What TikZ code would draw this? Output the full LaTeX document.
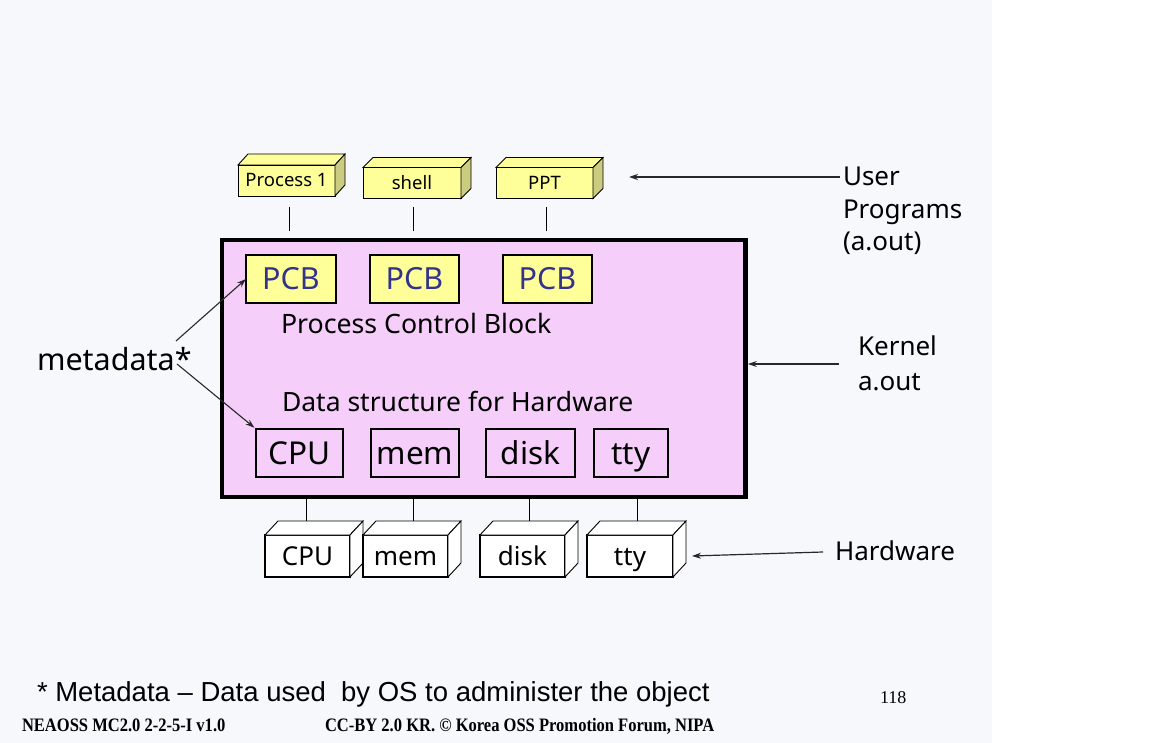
\documentclass[tikz,border=0pt]{standalone}
\usepackage{fontspec}
\setmainfont{Noto Sans}
\newfontfamily\arialf{Liberation Sans}
\newfontfamily\timesf{Liberation Serif}
\usetikzlibrary{arrows.meta}
\definecolor{slidebg}{RGB}{247,248,252}
\definecolor{kpink}{RGB}{245,206,250}
\definecolor{pyellow}{RGB}{255,255,153}
\definecolor{pside}{RGB}{204,204,128}
\definecolor{pcbtext}{RGB}{51,51,140}
\definecolor{inkgray}{RGB}{40,40,40}
\newcommand\fs[1]{\fontsize{#1}{#1}\selectfont}
\newcommand\cubefaces[5]{%
  \draw[cubeline,fill=#4] (#1.north west) -- ([shift={(#2,#3)}]#1.north west) -- ([shift={(#2,#3)}]#1.north east) -- (#1.north east) -- cycle;
  \draw[cubeline,fill=#5] (#1.north east) -- ([shift={(#2,#3)}]#1.north east) -- ([shift={(#2,#3)}]#1.south east) -- (#1.south east) -- cycle;}
\begin{document}
\begin{tikzpicture}[x=1pt,y=-1pt,
  cubeline/.style={draw=black,line width=0.9pt,line join=miter},
  ucube/.style={text height=13pt,text depth=-1pt,draw=black,line width=0.9pt,fill=pyellow,outer sep=0pt,inner sep=0pt,minimum height=31pt,font=\fs{18.5}},
  hcube/.style={text height=18.6pt,text depth=-1pt,draw=black,line width=1.2pt,fill=white,outer sep=0pt,inner sep=0pt,minimum width=85pt,minimum height=42pt,font=\fs{26}},
  kernelbox/.style={draw=black,line width=4.8pt,fill=kpink,outer sep=0pt,inner sep=0pt},
  pcbbox/.style={text height=21.8pt,text depth=0pt,draw=black,line width=1.3pt,fill=pyellow,outer sep=0pt,inner sep=0pt,minimum width=90pt,minimum height=48pt,font=\fs{30.5},text=pcbtext},
  hwbox/.style={text height=22.5pt,text depth=0pt,draw=black,line width=1.3pt,outer sep=0pt,inner sep=0pt,minimum height=48pt,font=\fs{31.5}},
  lbl/.style={inner sep=0pt,outer sep=0pt,anchor=base west,text=black},
  tick/.style={draw=black,line width=1pt},
  arr/.style={draw=inkgray,line width=1.2pt,-{Stealth[length=9pt,width=6pt]}}
]
\useasboundingbox (0,0) rectangle (1152,743);
\fill[white] (0,0) rectangle (1152,743);
\fill[slidebg] (0,0) rectangle (992,743);

% kernel
\node[kernelbox,minimum width=523.5pt,minimum height=257pt] (kern) at (483.75,368.5) {};

% user program cuboids
\node[ucube,minimum width=97pt] (p1) at (286.5,180.5) {Process 1};
\cubefaces{p1}{10}{-11}{pyellow}{pside}
\node[ucube,minimum width=98pt] (psh) at (412,183) {shell};
\cubefaces{psh}{10}{-10}{pyellow}{pside}
\node[ucube,minimum width=97pt] (ppt) at (544.5,183) {PPT};
\cubefaces{ppt}{10}{-10}{pyellow}{pside}

\coordinate (t1a) at (289,207); \coordinate (t1b) at (289,231);
\coordinate (t2a) at (413,207); \coordinate (t2b) at (413,231);
\coordinate (t3a) at (546,207); \coordinate (t3b) at (546,231);
\draw[tick] (t1a) -- (t1b);
\draw[tick] (t2a) -- (t2b);
\draw[tick] (t3a) -- (t3b);

% PCBs
\node[pcbbox] (pcb1) at (291,279) {PCB};
\node[pcbbox,minimum width=89pt] (pcb2) at (414.5,279) {PCB};
\node[pcbbox,minimum width=89pt] (pcb3) at (547.5,279) {PCB};
\node[lbl,font=\fs{26.7}] (pcbl) at (281,334) {Process Control Block};

% hardware data structures
\node[lbl,font=\fs{26.5}] (dsl) at (282,412) {Data structure for Hardware};
\node[hwbox,minimum width=87pt] (ib1) at (299.5,453) {CPU};
\node[hwbox,minimum width=88pt] (ib2) at (415,453) {mem};
\node[hwbox,minimum width=89pt] (ib3) at (530.5,453) {disk};
\node[hwbox,minimum width=74pt] (ib4) at (631,453) {tty};

% hardware cuboids
\node[hcube] (h1) at (307.5,556) {CPU};
\cubefaces{h1}{13}{-14}{white}{white}
\node[hcube] (h2) at (405.5,556) {mem};
\cubefaces{h2}{13}{-14}{white}{white}
\node[hcube] (h3) at (522.5,556) {disk};
\cubefaces{h3}{13}{-14}{white}{white}
\node[hcube,minimum width=86pt] (h4) at (630,556) {tty};
\cubefaces{h4}{13}{-14}{white}{white}

\coordinate (b1) at (306,521); \coordinate (b2) at (413,521);
\coordinate (b3) at (529,521); \coordinate (b4) at (637,521);
\draw[tick] (kern.south -| b1) -- (b1);
\draw[tick] (kern.south -| b2) -- (b2);
\draw[tick] (kern.south -| b3) -- (b3);
\draw[tick] (kern.south -| b4) -- (b4);

% right labels and arrows
\node[lbl,font=\fs{26}] (up1) at (843,186) {User};
\node[lbl,font=\fs{26}] (up2) at (843,219) {Programs};
\node[lbl,font=\fs{26}] (up3) at (843,251) {(a.out)};
\coordinate (ua) at (840,177); \coordinate (ub) at (629,177);
\draw[arr] (ua) -- (ub);

\node[lbl,font=\fs{26}] (kl1) at (858,356) {Kernel};
\node[lbl,font=\fs{26}] (kl2) at (858,391) {a.out};
\coordinate (ka) at (839,364);
\draw[arr,shorten >=2.4pt] (ka) -- (ka -| kern.east);

\node[lbl,font=\fs{26}] (hwl) at (835,560) {Hardware};
\coordinate (ha) at (823,552); \coordinate (hb) at (692,556);
\draw[arr] (ha) -- (hb);

% metadata
\node[lbl,font=\fs{30.5}] (meta) at (37,371) {metadata*};
\coordinate (m1) at (176,341); \coordinate (m2) at (177,364);
\draw[arr,line width=1.1pt] (m1) -- (pcb1.west);
\draw[arr,line width=1.1pt,shorten >=2pt] (m2) -- (ib1.north west);

% bottom texts
\node[lbl,font=\arialf\fs{27.5}] (note) at (37,701) {* Metadata – Data used\ \ by OS to administer the object};
\node[lbl,font=\timesf\fs{18}] (pg) at (880,703) {118};
\node[lbl,font=\timesf\bfseries\fs{19}] (ft1) at (22,731) {\scalebox{0.87}[1]{NEAOSS MC2.0 2-2-5-I v1.0}};
\node[lbl,font=\timesf\bfseries\fs{19}] (ft2) at (325,731) {\scalebox{0.87}[1]{CC-BY 2.0 KR. © Korea OSS Promotion Forum, NIPA}};
\end{tikzpicture}
\end{document}
